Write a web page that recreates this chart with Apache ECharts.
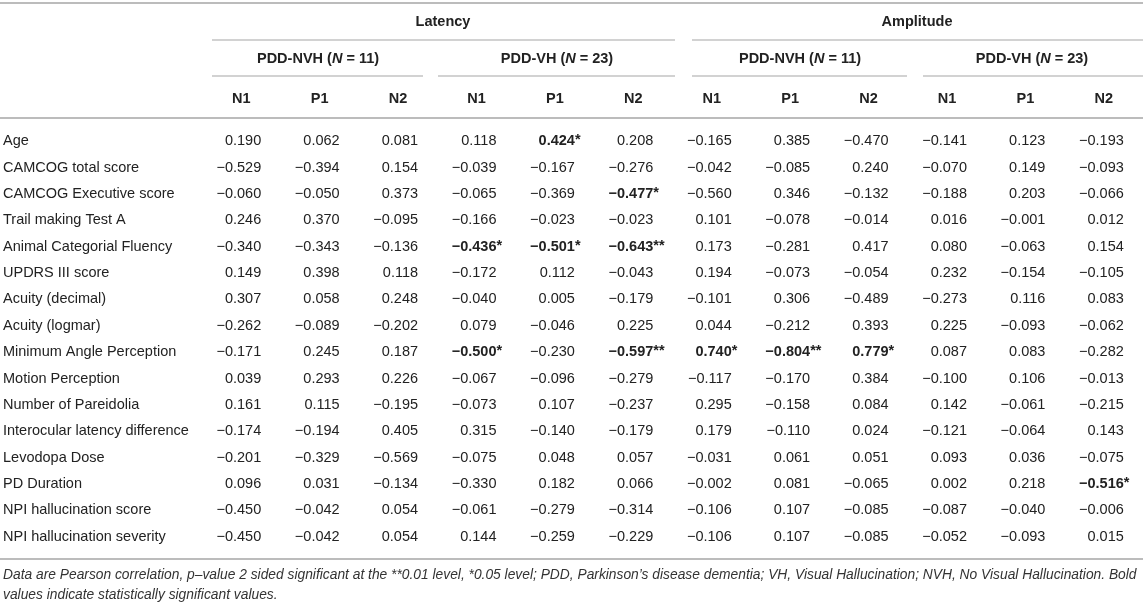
<!DOCTYPE html>
<html>
<head>
<meta charset="utf-8">
<script src="https://cdn.jsdelivr.net/npm/echarts@6/dist/echarts.min.js"></script>
<style>
  html, body { margin: 0; padding: 0; background: #fff; }
  #main { width: 1143px; height: 605px; }
</style>
</head>
<body>
<div id="main"></div>
<script>
var FONT = '"Liberation Sans", Arial, Helvetica, sans-serif';
var FS = 14.5;

// columns: Latency NVH, Latency VH, Amplitude NVH, Amplitude VH  x  N1/P1/N2
var columns = ['N1', 'P1', 'N2', 'N1', 'P1', 'N2', 'N1', 'P1', 'N2', 'N1', 'P1', 'N2'];
var rowNames = [
  'Age', 'CAMCOG total score', 'CAMCOG Executive score', 'Trail making Test A',
  'Animal Categorial Fluency', 'UPDRS III score', 'Acuity (decimal)', 'Acuity (logmar)',
  'Minimum Angle Perception', 'Motion Perception', 'Number of Pareidolia',
  'Interocular latency difference', 'Levodopa Dose', 'PD Duration',
  'NPI hallucination score', 'NPI hallucination severity'
];

var age          = [0.190, 0.062, 0.081, 0.118, 0.424, 0.208, -0.165, 0.385, -0.470, -0.141, 0.123, -0.193];
var camcogTotal  = [-0.529, -0.394, 0.154, -0.039, -0.167, -0.276, -0.042, -0.085, 0.240, -0.070, 0.149, -0.093];
var camcogExec   = [-0.060, -0.050, 0.373, -0.065, -0.369, -0.477, -0.560, 0.346, -0.132, -0.188, 0.203, -0.066];
var trailA       = [0.246, 0.370, -0.095, -0.166, -0.023, -0.023, 0.101, -0.078, -0.014, 0.016, -0.001, 0.012];
var animalFlu    = [-0.340, -0.343, -0.136, -0.436, -0.501, -0.643, 0.173, -0.281, 0.417, 0.080, -0.063, 0.154];
var updrs        = [0.149, 0.398, 0.118, -0.172, 0.112, -0.043, 0.194, -0.073, -0.054, 0.232, -0.154, -0.105];
var acuityDec    = [0.307, 0.058, 0.248, -0.040, 0.005, -0.179, -0.101, 0.306, -0.489, -0.273, 0.116, 0.083];
var acuityLog    = [-0.262, -0.089, -0.202, 0.079, -0.046, 0.225, 0.044, -0.212, 0.393, 0.225, -0.093, -0.062];
var minAngle     = [-0.171, 0.245, 0.187, -0.500, -0.230, -0.597, 0.740, -0.804, 0.779, 0.087, 0.083, -0.282];
var motion       = [0.039, 0.293, 0.226, -0.067, -0.096, -0.279, -0.117, -0.170, 0.384, -0.100, 0.106, -0.013];
var pareidolia   = [0.161, 0.115, -0.195, -0.073, 0.107, -0.237, 0.295, -0.158, 0.084, 0.142, -0.061, -0.215];
var interocular  = [-0.174, -0.194, 0.405, 0.315, -0.140, -0.179, 0.179, -0.110, 0.024, -0.121, -0.064, 0.143];
var levodopa     = [-0.201, -0.329, -0.569, -0.075, 0.048, 0.057, -0.031, 0.061, 0.051, 0.093, 0.036, -0.075];
var pdDuration   = [0.096, 0.031, -0.134, -0.330, 0.182, 0.066, -0.002, 0.081, -0.065, 0.002, 0.218, -0.516];
var npiScore     = [-0.450, -0.042, 0.054, -0.061, -0.279, -0.314, -0.106, 0.107, -0.085, -0.087, -0.040, -0.006];
var npiSeverity  = [-0.450, -0.042, 0.054, 0.144, -0.259, -0.229, -0.106, 0.107, -0.085, -0.052, -0.093, 0.015];

// [row, column, stars]  -> shown bold
var significant = [
  [0, 4, '*'], [2, 5, '*'], [4, 3, '*'], [4, 4, '*'], [4, 5, '**'],
  [8, 3, '*'], [8, 5, '**'], [8, 6, '*'], [8, 7, '**'], [8, 8, '*'], [13, 11, '*']
];

var rows = [age, camcogTotal, camcogExec, trailA, animalFlu, updrs, acuityDec, acuityLog,
            minAngle, motion, pareidolia, interocular, levodopa, pdDuration, npiScore, npiSeverity];

var starOf = {};
significant.forEach(function (s) { starOf[s[0] + '_' + s[1]] = s[2]; });

var cells = [];
rows.forEach(function (vals, r) {
  vals.forEach(function (v, c) {
    cells.push([c, r, v, starOf[r + '_' + c] || '']);
  });
});

function fmt(v) {
  var s = Math.abs(v).toFixed(3);
  return v < 0 ? '\u2212' + s : s;
}

var myChart = echarts.init(document.getElementById('main'));

var rule = function (x1, x2, y, w, c) {
  return { type: 'line', shape: { x1: x1, y1: y, x2: x2, y2: y },
           style: { stroke: c || '#c3c3c3', lineWidth: w || 1.5 }, silent: true };
};
var head = function (txt, x, y) {
  return { type: 'text', style: { text: txt, x: x, y: y, textAlign: 'center', textVerticalAlign: 'middle',
           font: 'bold ' + FS + 'px ' + FONT, fill: '#222',
           rich: { b: { fontWeight: 'bold', fontSize: FS, fontFamily: FONT, fill: '#222' },
                   i: { fontWeight: 'bold', fontStyle: 'italic', fontSize: FS, fontFamily: FONT, fill: '#222' } } } };
};

var option = {
  animation: false,
  grid: { left: 202, right: 0, top: 128, bottom: 55 },
  xAxis: {
    type: 'category',
    position: 'top',
    data: columns,
    axisLine: { show: false },
    axisTick: { show: false },
    axisLabel: { margin: 22, fontFamily: FONT, fontSize: FS, fontWeight: 'bold', color: '#222' },
    splitLine: { show: false }
  },
  yAxis: {
    type: 'category',
    inverse: true,
    data: rowNames,
    axisLine: { show: false },
    axisTick: { show: false },
    axisLabel: { align: 'left', margin: 199, fontFamily: FONT, fontSize: FS, color: '#222' },
    splitLine: { show: false }
  },
  series: [{
    type: 'custom',
    data: cells,
    renderItem: function (params, api) {
      var d = cells[params.dataIndex];
      var p = api.coord([d[0], d[1]]);
      var bold = d[3] !== '';
      var font = (bold ? 'bold ' : '') + FS + 'px ' + FONT;
      var kids = [{
        type: 'text',
        style: { text: fmt(d[2]), x: p[0] + 20, y: p[1], textAlign: 'right',
                 textVerticalAlign: 'middle', font: font, fill: '#222' }
      }];
      if (bold) {
        kids.push({
          type: 'text',
          style: { text: d[3], x: p[0] + 20, y: p[1] - 1, textAlign: 'left',
                   textVerticalAlign: 'middle', font: font, fill: '#222' }
        });
      }
      return { type: 'group', children: kids };
    }
  }],
  graphic: [
    rule(0, 1143, 3, 2, '#bcbcbc'),
    rule(212, 675, 40), rule(692, 1143, 40),
    rule(212, 423, 76), rule(438, 675, 76), rule(692, 907, 76), rule(923, 1143, 76),
    rule(0, 1143, 118, 2, '#bcbcbc'),
    rule(0, 1143, 559, 2, '#bcbcbc'),
    head('Latency', 443, 22),
    head('Amplitude', 917, 22),
    head('{b|PDD-NVH (}{i|N}{b| = 11)}', 318, 59),
    head('{b|PDD-VH (}{i|N}{b| = 23)}', 557, 59),
    head('{b|PDD-NVH (}{i|N}{b| = 11)}', 800, 59),
    head('{b|PDD-VH (}{i|N}{b| = 23)}', 1032, 59),
    { type: 'text', style: { x: 3, y: 575, textVerticalAlign: 'middle', fill: '#333',
        font: 'italic 13.8px ' + FONT,
        text: 'Data are Pearson correlation, p\u2013value 2 sided significant at the **0.01 level, *0.05 level; PDD, Parkinson\u2019s disease dementia; VH, Visual Hallucination; NVH, No Visual Hallucination. Bold' } },
    { type: 'text', style: { x: 3, y: 595, textVerticalAlign: 'middle', fill: '#333',
        font: 'italic 13.8px ' + FONT,
        text: 'values indicate statistically significant values.' } }
  ]
};

myChart.setOption(option);
</script>
</body>
</html>
